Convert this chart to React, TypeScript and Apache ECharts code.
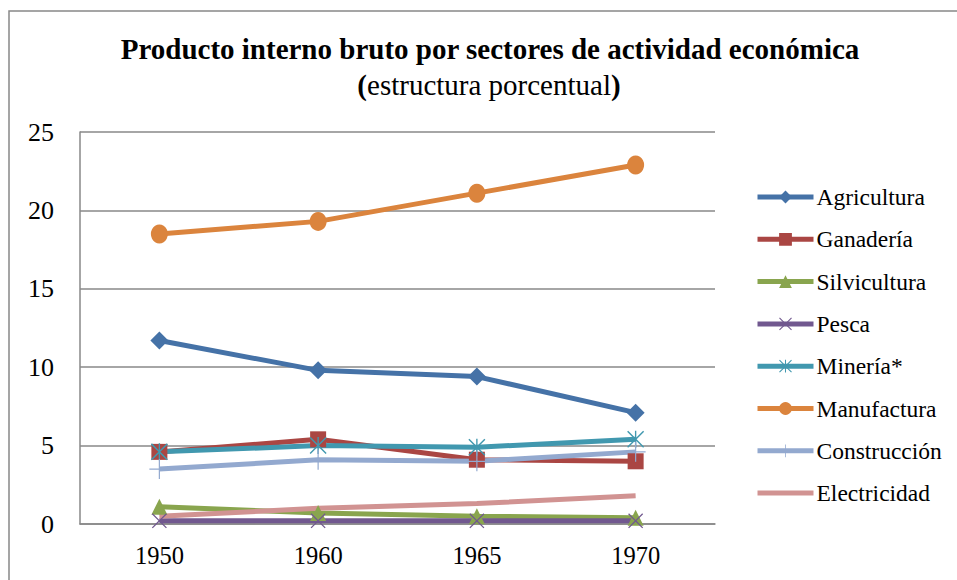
import React, { useEffect, useRef } from "react";
import * as echarts from "echarts";

const years = ["1950", "1960", "1965", "1970"];
const agricultura = [11.7, 9.8, 9.4, 7.1];
const ganaderia = [4.6, 5.4, 4.1, 4.0];
const silvicultura = [1.1, 0.7, 0.5, 0.4];
const pesca = [0.2, 0.2, 0.2, 0.2];
const mineria = [4.6, 5.0, 4.9, 5.4];
const manufactura = [18.5, 19.3, 21.1, 22.9];
const construccion = [3.5, 4.1, 4.0, 4.6];
const electricidad = [0.5, 1.0, 1.3, 1.8];

const SERIF = "Liberation Serif";

const X_PATH =
  "path://M0,1.2 L1.2,0 L10,8.8 L18.8,0 L20,1.2 L11.2,10 L20,18.8 L18.8,20 L10,11.2 L1.2,20 L0,18.8 L8.8,10 Z";
const STAR_PATH =
  "path://M0,1.2 L1.2,0 L10,8.8 L18.8,0 L20,1.2 L11.2,10 L20,18.8 L18.8,20 L10,11.2 L1.2,20 L0,18.8 L8.8,10 Z M9.2,0 L10.8,0 L10.8,20 L9.2,20 Z";
const PLUS_PATH =
  "path://M9.4,0 L10.6,0 L10.6,9.4 L20,9.4 L20,10.6 L10.6,10.6 L10.6,20 L9.4,20 L9.4,10.6 L0,10.6 L0,9.4 L9.4,9.4 Z";
const BAR_ICON =
  "path://M0,0 L0.01,0 L0.01,0.01 Z M0,5.5 L56,5.5 L56,10.5 L0,10.5 Z M0,15.99 L0.01,15.99 L0.01,16 Z";

export default function App() {
  const ref = useRef<HTMLDivElement>(null);
  useEffect(() => {
    document.body.style.margin = "0";
    const chart = echarts.init(ref.current!, null, { renderer: "svg" });
    const mk = (name: string, data: number[], color: string, symbol: string, size: number | number[]) => ({
      name,
      type: "line",
      data,
      symbol,
      symbolSize: size,
      showSymbol: symbol !== "none",
      lineStyle: { color, width: 5 },
      itemStyle: { color },
      emphasis: { disabled: true },
    });
    chart.setOption({
      animation: false,
      textStyle: { fontFamily: SERIF },
      graphic: [
        {
          type: "rect",
          shape: { x: 9, y: 11, width: 1000, height: 700 },
          style: { fill: "none", stroke: "#888888", lineWidth: 1.5 },
          silent: true,
        },
        {
          type: "text",
          x: 490,
          y: 49,
          style: {
            text: "Producto interno bruto por sectores de actividad económica",
            fontFamily: SERIF,
            fontSize: 29,
            fontWeight: "bold",
            fill: "#000",
            textAlign: "center",
            textVerticalAlign: "middle",
          },
        },
        {
          type: "text",
          x: 489,
          y: 85,
          style: {
            text: "{b|(}{n|estructura porcentual}{b|)}",
            fontFamily: SERIF,
            fontSize: 29,
            fill: "#000",
            textAlign: "center",
            textVerticalAlign: "middle",
            rich: {
              b: { fontFamily: SERIF, fontSize: 29, fontWeight: "bold", fill: "#000" },
              n: { fontFamily: SERIF, fontSize: 29, fontWeight: "normal", fill: "#000" },
            },
          },
        },
      ],
      grid: { left: 80, right: 242, top: 132, bottom: 56 },
      legend: {
        orient: "vertical",
        left: 755,
        top: 185,
        padding: 0,
        itemWidth: 56,
        itemHeight: 16,
        itemGap: 18.3,
        lineStyle: { width: 5 },
        textStyle: { fontFamily: SERIF, fontSize: 23.5, color: "#000", lineHeight: 24, padding: [0, 0, 0, -2] },
        data: [
          "Agricultura",
          "Ganadería",
          "Silvicultura",
          "Pesca",
          "Minería*",
          "Manufactura",
          "Construcción",
          { name: "Electricidad", icon: BAR_ICON },
        ],
      },
      xAxis: {
        type: "category",
        data: years,
        axisLine: { lineStyle: { color: "#888888", width: 1.5 } },
        axisTick: { show: false },
        axisLabel: { fontFamily: SERIF, fontSize: 24.5, color: "#000", margin: 19 },
      },
      yAxis: {
        type: "value",
        min: 0,
        max: 25,
        interval: 5,
        axisLine: { show: true, lineStyle: { color: "#888888", width: 1.5 } },
        axisTick: { show: false },
        splitLine: { lineStyle: { color: "#888888", width: 1.5 } },
        axisLabel: { fontFamily: SERIF, fontSize: 26, color: "#000", margin: 26 },
      },
      series: [
        mk("Agricultura", agricultura, "#4572A7", "diamond", 18),
        mk("Ganadería", ganaderia, "#AA4643", "rect", 16),
        mk("Silvicultura", silvicultura, "#89A54E", "triangle", 16),
        mk("Pesca", pesca, "#71588F", X_PATH, 15),
        mk("Minería*", mineria, "#4198AF", STAR_PATH, 17),
        mk("Manufactura", manufactura, "#DB843D", "circle", [17, 19]),
        mk("Construcción", construccion, "#93A9CF", PLUS_PATH, 20),
        mk("Electricidad", electricidad, "#D19392", "none", 1),
      ],
    });
    return () => chart.dispose();
  }, []);
  return <div ref={ref} style={{ width: 957, height: 580 }} />;
}
